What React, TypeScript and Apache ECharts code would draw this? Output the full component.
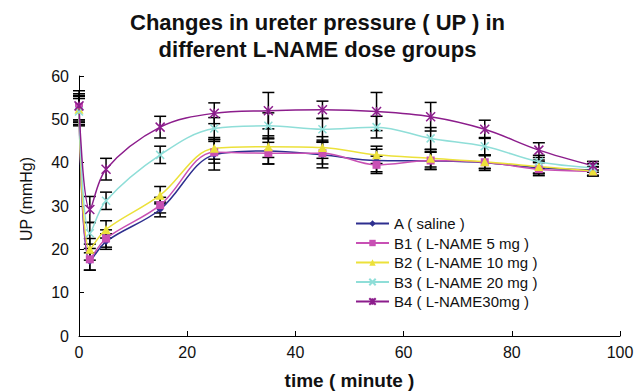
import React, { useEffect, useRef } from "react";
import * as echarts from "echarts";

const times = [0, 2, 5, 15, 25, 35, 45, 55, 65, 75, 85, 95];
const seriesNames = [
  "A ( saline )",
  "B1 ( L-NAME 5 mg )",
  "B2 ( L-NAME 10 mg )",
  "B3 ( L-NAME 20 mg )",
  "B4 ( L-NAME30mg )",
];
const valuesA = [52.0, 17.2, 21.8, 29.2, 41.8, 42.7, 41.8, 40.5, 40.4, 40.0, 38.8, 38.3];
const valuesB1 = [52.9, 17.7, 22.5, 30.2, 42.4, 42.2, 42.2, 39.5, 40.5, 40.1, 38.5, 38.0];
const valuesB2 = [52.3, 20.0, 24.6, 32.5, 43.3, 43.7, 43.5, 41.8, 41.0, 40.2, 39.1, 38.1];
const valuesB3 = [51.8, 23.7, 31.2, 41.8, 47.9, 48.5, 47.7, 48.2, 45.6, 43.8, 40.2, 38.8];
const valuesB4 = [53.1, 29.2, 38.5, 48.2, 51.4, 52.0, 52.2, 51.8, 50.6, 47.7, 42.9, 39.3];
const errA = [3.5, 2.0, 1.8, 1.7, 3.5, 3.0, 3.0, 2.6, 2.0, 1.8, 1.4, 1.4];
const errB1 = [3.0, 2.5, 2.0, 1.8, 2.5, 2.5, 2.5, 2.0, 2.0, 1.5, 1.5, 1.0];
const errB2 = [3.0, 2.5, 2.0, 2.0, 2.5, 2.5, 2.5, 2.0, 2.0, 1.5, 1.5, 1.0];
const errB3 = [3.0, 2.5, 2.0, 2.0, 2.5, 3.0, 2.5, 2.5, 2.5, 2.0, 1.5, 1.0];
const errB4 = [3.5, 3.0, 2.5, 2.5, 2.4, 4.2, 2.0, 4.4, 3.3, 2.1, 1.7, 1.0];

const allValues = [valuesA, valuesB1, valuesB2, valuesB3, valuesB4];
const allErrs = [errA, errB1, errB2, errB3, errB4];
const colors = ["#2e2f8f", "#c850b4", "#ece13a", "#8fded8", "#8c1d8c"];
const symbols = [
  "diamond",
  "rect",
  "triangle",
  "path://M0,0L10,10M10,0L0,10",
  "path://M0,0L10,10M10,0L0,10M5,0L5,10",
];
const symbolSizes = [7, 8, 9, 8, 9];

const FONT = "'Liberation Sans', Arial, sans-serif";

export default function App() {
  const ref = useRef<HTMLDivElement>(null);
  useEffect(() => {
    if (!ref.current) return;
    document.body.style.margin = "0";
    document.body.style.overflow = "hidden";
    const chart = echarts.init(ref.current, null, { renderer: "svg" });

    const errData: any[] = [];
    allValues.forEach((vals, si) => {
      vals.forEach((v, i) => errData.push([times[i], v, allErrs[si][i]]));
    });

    const lineSeries = seriesNames.map((name, si) => ({
      name,
      type: "line",
      smooth: 0.35,
      data: times.map((t, i) => [t, allValues[si][i]]),
      symbol: symbols[si],
      symbolSize: symbolSizes[si],
      showAllSymbol: true,
      lineStyle: { color: colors[si], width: 1.5 },
      itemStyle: {
        color: colors[si],
        borderColor: colors[si],
        borderWidth: si >= 3 ? 1.5 : 0,
      },
      z: 3,
    }));

    chart.setOption({
      animation: false,
      title: {
        text: "Changes in ureter pressure ( UP ) in\ndifferent L-NAME dose groups",
        left: "center",
        top: 4,
        textStyle: {
          fontFamily: FONT,
          fontWeight: "bold",
          fontSize: 22,
          color: "#111",
          lineHeight: 27,
        },
      },
      grid: { left: 79, right: 15, top: 76, bottom: 55, outerBoundsMode: "none", containLabel: false },
      legend: {
        orient: "vertical",
        left: 350,
        top: 211,
        itemWidth: 33,
        itemHeight: 8,
        itemGap: 4.5,
        data: seriesNames,
        textStyle: { fontFamily: FONT, fontSize: 15, color: "#111" },
      },
      xAxis: {
        type: "value",
        min: 0,
        max: 100,
        interval: 20,
        name: "time ( minute )",
        nameLocation: "middle",
        nameGap: 35,
        nameTextStyle: { fontFamily: FONT, fontWeight: "bold", fontSize: 19, color: "#111" },
        axisLine: { show: true, onZero: false, lineStyle: { color: "#000", width: 1 } },
        axisTick: { show: true, inside: true, length: 5, lineStyle: { color: "#000" } },
        axisLabel: { fontFamily: FONT, fontSize: 16, color: "#111", margin: 8 },
        splitLine: { show: false },
      },
      yAxis: {
        type: "value",
        min: 0,
        max: 60,
        interval: 10,
        name: "UP (mmHg)",
        nameLocation: "middle",
        nameGap: 45,
        nameTextStyle: { fontFamily: FONT, fontSize: 16, color: "#111", padding: [0, 0, 0, 14] },
        axisLine: { show: true, lineStyle: { color: "#000", width: 1 } },
        axisTick: { show: true, inside: true, length: 5, lineStyle: { color: "#000" } },
        axisLabel: { fontFamily: FONT, fontSize: 16, color: "#111", margin: 10 },
        splitLine: { show: false },
      },
      series: [
        {
          name: "errors",
          type: "custom",
          data: errData,
          z: 2,
          silent: true,
          renderItem: (params: any, api: any) => {
            const x = api.value(0);
            const y = api.value(1);
            const e = api.value(2);
            const top = api.coord([x, y + e]);
            const bot = api.coord([x, y - e]);
            const hw = 6;
            const style = { stroke: "#000", lineWidth: 1.5 };
            return {
              type: "group",
              children: [
                { type: "line", shape: { x1: top[0], y1: top[1], x2: bot[0], y2: bot[1] }, style },
                { type: "line", shape: { x1: top[0] - hw, y1: top[1], x2: top[0] + hw, y2: top[1] }, style },
                { type: "line", shape: { x1: bot[0] - hw, y1: bot[1], x2: bot[0] + hw, y2: bot[1] }, style },
              ],
            };
          },
        },
        ...lineSeries,
      ],
    });
    return () => chart.dispose();
  }, []);
  return <div ref={ref} style={{ width: 635, height: 391, position: "absolute", left: 0, top: 0, overflow: "hidden", background: "#fff" }} />;
}
